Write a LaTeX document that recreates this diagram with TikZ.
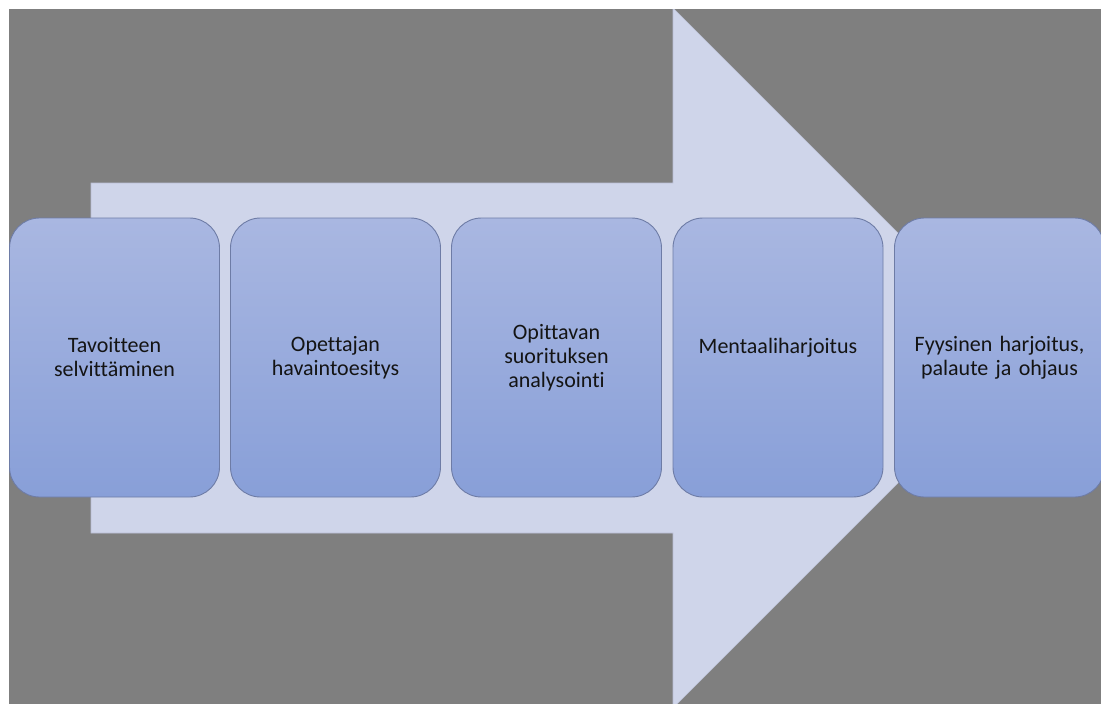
\documentclass[tikz,border=0pt]{standalone}
\usepackage{fontspec}
\setmainfont{Carlito}[Ligatures=NoCommon]
\definecolor{bggray}{HTML}{7F7F7F}
\definecolor{arrowfill}{HTML}{CFD5EA}
\definecolor{arrowline}{HTML}{B9BED4}
\definecolor{boxtop}{HTML}{A9B7E1}
\definecolor{boxbot}{HTML}{889FD8}
\definecolor{boxline}{HTML}{6E7CA6}
\definecolor{txt}{HTML}{141414}
\tikzset{
  stepbox/.style={rounded corners=30pt, draw=boxline, line width=0.9pt,
    top color=boxtop, bottom color=boxbot,
    minimum width=210pt, minimum height=279pt, inner sep=0pt,
    text=txt, align=center, font=\fontsize{22}{24}\selectfont, text width=200pt},
}
\begin{document}
\begin{tikzpicture}[x=1pt,y=-1pt]
\useasboundingbox (0,0) rectangle (1101,704);
\fill[white] (0,0) rectangle (1101,704);
\fill[bggray] (9,9) rectangle (1101,704);
\begin{scope}
\clip (9,9) rectangle (1101,704);
\draw[fill=arrowfill, draw=arrowline, line width=0.6pt]
  (91,183) -- (673,183) -- (673,8) -- (1023,358) -- (673,708) -- (673,533) -- (91,533) -- cycle;
\node[stepbox] (b1) at (114.5,357.5) {Tavoitteen\\selvittäminen};
\node[stepbox] (b2) at (335.5,357.5) {Opettajan\\havaintoesitys};
\node[stepbox] (b3) at (556.5,357.5) {Opittavan\\suorituksen\\analysointi};
\node[stepbox] (b4) at (778,357.5) {Mentaaliharjoitus\\\phantom{x}};
\node[stepbox] (b5) at (999.5,357.5) {Fyysinen harjoitus,\\palaute ja ohjaus};
\end{scope}
\end{tikzpicture}
\end{document}
